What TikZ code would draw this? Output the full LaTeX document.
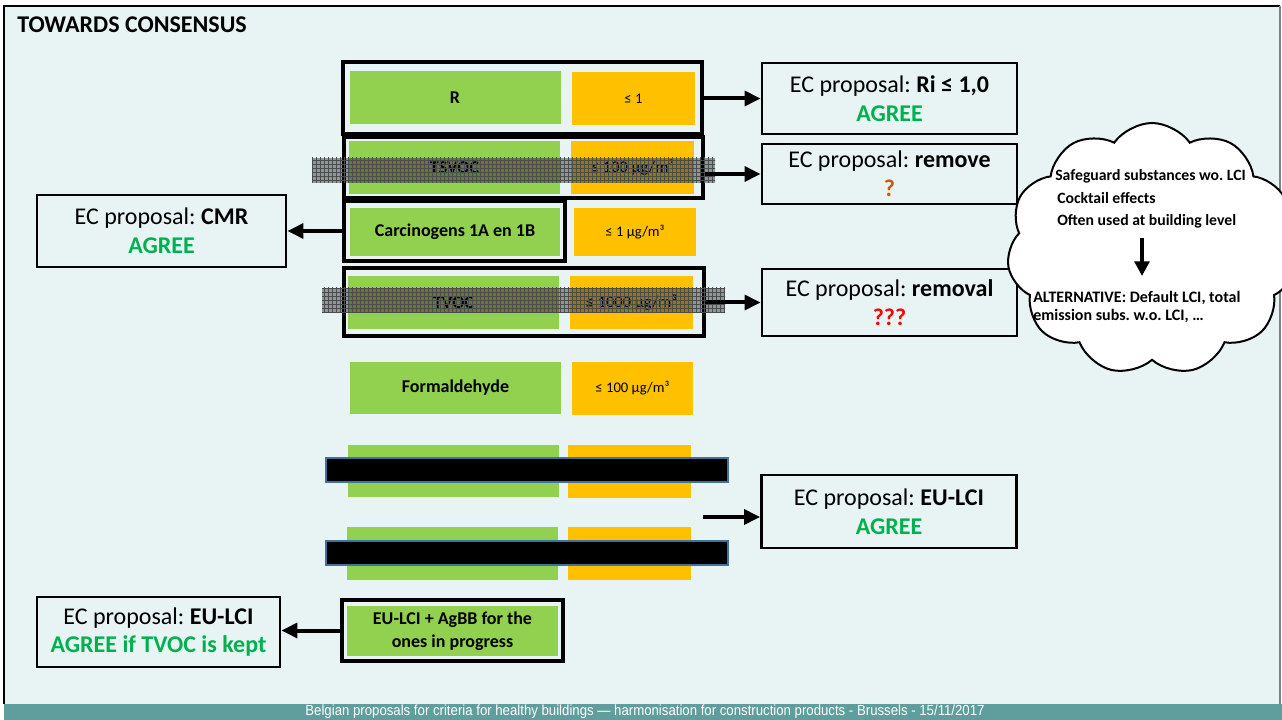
\documentclass[tikz,border=0pt]{standalone}
\usepackage{fontspec}
\setmainfont{Carlito}
\newfontfamily\footfont{Liberation Sans}
\usepackage{tikz}
\usetikzlibrary{arrows.meta,positioning,calc,patterns,shapes.symbols}
\frenchspacing
\definecolor{slidebg}{RGB}{232,244,244}
\definecolor{critgreen}{RGB}{146,208,80}
\definecolor{limorange}{RGB}{255,192,0}
\definecolor{agreegreen}{RGB}{0,176,80}
\definecolor{askorange}{RGB}{197,90,17}
\definecolor{footteal}{RGB}{95,158,156}
\definecolor{barblue}{RGB}{65,113,156}
\newlength\pxu
\setlength\pxu{0.75pt}
\tikzstyle{crit}=[fill=critgreen,minimum width=211\pxu,minimum height=53\pxu,inner sep=0pt,font=\fontsize{13.5}{17}\selectfont\bfseries]
\tikzstyle{limit}=[fill=limorange,minimum width=123\pxu,minimum height=53\pxu,inner sep=0pt,font=\fontsize{11}{13}\selectfont]
\tikzstyle{rowframe}=[draw,line width=2.7pt,inner sep=0pt]
\tikzstyle{ecbox}=[draw,line width=2pt,minimum width=255\pxu,align=center,inner sep=0pt,font=\fontsize{18}{21.5}\selectfont]
\tikzstyle{ecarrow}=[line width=3pt,-{Triangle[length=12pt,width=11pt]}]
\tikzstyle{struck}=[fill=black,fill opacity=0.38]
\tikzstyle{blackbar}=[fill=black,draw=barblue,line width=0.8pt,inner sep=0pt,minimum width=402\pxu,minimum height=24\pxu]
\tikzstyle{cloudtext}=[anchor=west,align=left,inner sep=0pt,font=\fontsize{11.8}{17}\selectfont\bfseries]

\begin{document}
\begin{tikzpicture}[x=0.75pt,y=-0.75pt]
\useasboundingbox (0,0) rectangle (1282,720);
\fill[white] (0,0) rectangle (1282,720);
\fill[slidebg] (4,6) rectangle (1280,704);
\fill[footteal] (4,704) rectangle (1282,720);
\draw[line width=2.2pt] (4,704) -- (4,6) -- (1280,6);
\draw[gray,line width=1pt] (1280,6) -- (1280,704);
\node[anchor=west,inner sep=0pt,font=\fontsize{18}{20}\selectfont\bfseries] (title) at (17,25) {TOWARDS CONSENSUS};
\node[text=white,inner sep=0pt,xscale=0.9,font=\footfont\fontsize{11}{12}\selectfont] (foot) at (645,712) {Belgian proposals for criteria for healthy buildings — harmonisation for construction products - Brussels - 15/11/2017};

\node[rowframe,minimum width=359\pxu,minimum height=72\pxu] (rFrame) at (522.5,98) {};
\node[crit] (rName) at (455,97.5) {R};
\node[limit] (rLim) at (633.5,98.5) {≤ 1};
\node[rowframe,minimum width=359\pxu,minimum height=61\pxu] (tsFrame) at (523.5,167.5) {};
\node[crit] (tsName) at (454.5,167.5) {TSVOC};
\node[limit,font=\fontsize{12.3}{14}\selectfont] (tsLim) at (632.5,167.5) {≤ 100 µg/m³};
\node[rowframe,minimum width=221\pxu,minimum height=60\pxu] (ccFrame) at (454.5,231) {};
\node[crit,minimum height=48\pxu,minimum width=210\pxu] (ccName) at (455,232) {Carcinogens 1A en 1B};
\node[limit,minimum height=48\pxu,minimum width=122\pxu] (ccLim) at (635,232) {≤ 1 µg/m³};
\node[rowframe,minimum width=360\pxu,minimum height=68\pxu] (tvFrame) at (524,302) {};
\node[crit] (tvName) at (453.5,302.5) {TVOC};
\node[limit,font=\fontsize{12.3}{14}\selectfont] (tvLim) at (631.5,302.5) {≤ 1000 µg/m³};
\node[crit,minimum height=52\pxu] (fmName) at (455.5,388) {Formaldehyde};
\node[limit,minimum width=121\pxu] (fmLim) at (632.5,388.5) {≤ 100 µg/m³};
\node[crit,minimum height=52\pxu] (hidA) at (453.5,471) {};
\node[limit] (hidALim) at (629.5,471.5) {};
\node[crit] (hidB) at (452.5,553.5) {};
\node[limit] (hidBLim) at (629.5,553.5) {};
\node[blackbar] (barA) at (527,470) {};
\node[blackbar] (barB) at (527,553) {};
\node[rowframe,minimum width=221\pxu,minimum height=61\pxu] (agFrame) at (452.5,630.5) {};
\node[crit,minimum height=50\pxu,align=center] (agName) at (452.5,631) {EU-LCI + AgBB for the\\ones in progress};

\fill[struck] (312,158) rectangle (715,183);
\fill[pattern=grid,pattern color=black!70] (312,158) rectangle (715,183);
\fill[struck] (322,288) rectangle (725,313);
\fill[pattern=grid,pattern color=black!70] (322,288) rectangle (725,313);

\node[ecbox,minimum height=71\pxu] (ecRi) at (889.5,98.5) {EC proposal: \textbf{Ri ≤ 1,0}\\\textcolor{agreegreen}{\textbf{AGREE}}};
\node[ecbox,minimum height=60\pxu] (ecRemove) at (889.5,174) {EC proposal: \textbf{remove}\\\textcolor{askorange}{\textbf{?}}};
\node[ecbox,minimum height=67\pxu] (ecRemoval) at (889.5,302.5) {EC proposal: \textbf{removal}\\\textcolor{red}{\textbf{???}}};
\node[ecbox,minimum height=73\pxu] (ecLci) at (889,511.5) {EC proposal: \textbf{EU-LCI}\\\textcolor{agreegreen}{\textbf{AGREE}}};
\node[ecbox,minimum width=249\pxu,minimum height=72\pxu] (ecCmr) at (161.5,231) {EC proposal: \textbf{CMR}\\\textcolor{agreegreen}{\textbf{AGREE}}};
\node[ecbox,minimum width=243\pxu,minimum height=70\pxu] (ecKept) at (158.5,632) {EC proposal: \textbf{EU-LCI}\\\textcolor{agreegreen}{\textbf{AGREE if TVOC is kept}}};
\coordinate (lciStart) at (703,517);

\draw[ecarrow] (ecRi.west -| rFrame.east) -- (ecRi.west);
\draw[ecarrow] (ecRemove.west -| tsFrame.east) -- (ecRemove.west);
\draw[ecarrow] (ecRemoval.west -| tvFrame.east) -- (ecRemoval.west);
\draw[ecarrow] (ccFrame.west) -- (ecCmr.east);
\draw[ecarrow] (lciStart) -- (lciStart -| ecLci.west);
\draw[ecarrow] (agFrame.west) -- (ecKept.east |- agFrame.west);

\node[cloud,draw,line width=1.5pt,fill=white,cloud puffs=11,cloud puff arc=110,aspect=1.15,minimum width=290\pxu,minimum height=252\pxu,inner sep=0pt] (worry) at (1152,249) {};
\node[cloudtext] (why) at (1055,199) {Safeguard substances wo. LCI\\\hspace{1.5pt}Cocktail effects\\\hspace{1.5pt}Often used at building level};
\node[cloudtext,font=\fontsize{12}{13.5}\selectfont\bfseries] (alt) at (1033,307) {ALTERNATIVE: Default LCI, total\\emission subs. w.o. LCI, …};
\coordinate (whyEnd) at (1142,238);
\coordinate (altStart) at (1142,276);
\draw[line width=3pt,-{Triangle[length=11pt,width=11pt]}] (whyEnd) -- (altStart);
\end{tikzpicture}
\end{document}
